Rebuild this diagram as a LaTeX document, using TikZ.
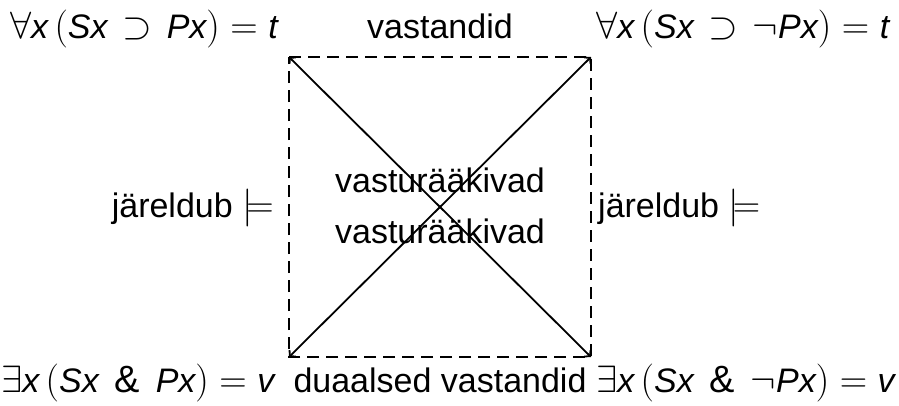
\RequirePackage{fix-cm}
\documentclass[tikz,border=0pt]{standalone}
\usepackage{fontspec}
\setmainfont{Liberation Sans}
\usetikzlibrary{arrows.meta}
% formulas: symbols a little larger than the sans letters
\DeclareMathSizes{34}{38}{27}{19}
\newcommand\vi[1]{\textit{#1}}
\newcommand\implies{\mskip2mu\supset\mskip2mu}
\newcommand\conj{\mskip3.5mu\mathbin{\textup{\fontsize{38}{40}\selectfont\&}}\mskip3.5mu}
\begin{document}
\begin{tikzpicture}[x=1pt,y=-1pt,
  lbl/.style={inner sep=0pt,font=\fontsize{34}{40}\selectfont},
  side/.style={line width=1.8pt,dash pattern=on 12pt off 7pt},
  diag/.style={line width=1.8pt,{Straight Barb[length=4pt,width=9pt]}-{Straight Barb[length=4pt,width=9pt]}}]
\useasboundingbox (0,0) rectangle (899,405);
% corners of the square
\coordinate (A) at (289,57);
\coordinate (E) at (591,57);
\coordinate (I) at (289,357);
\coordinate (O) at (591,357);
% sides and diagonals
\draw[side] (A) -- (E) -- (O) -- (I) -- cycle;
\draw[diag] (A) -- (O);
\draw[diag] (E) -- (I);
% corner formulas
\node[lbl,anchor=base east] (fa) at (278,38) {$\forall\vi{x}\,(\vi{Sx}\implies\vi{Px})=\vi{t}$};
\node[lbl,anchor=base west] (fe) at (596,38) {$\forall\vi{x}\,(\vi{Sx}\implies\neg\vi{Px})=\vi{t}$};
\node[lbl,anchor=base west] (fi) at (1,392) {$\exists\vi{x}\,(\vi{Sx}\conj\vi{Px})=\vi{v}$};
\node[lbl,anchor=base west] (fo) at (596,392) {$\exists\vi{x}\,(\vi{Sx}\conj\neg\vi{Px})=\vi{v}$};
% relation labels
\node[lbl,anchor=base] (top) at (440,38) {vastandid};
\node[lbl,anchor=base] (bot) at (440,392) {duaalsed vastandid};
\node[lbl,anchor=base east] (lft) at (274,217) {järeldub $\models$};
\node[lbl,anchor=base west] (rgt) at (598,217) {järeldub $\models$};
\node[lbl,anchor=base] (c1) at (440,192) {vasturääkivad};
\node[lbl,anchor=base] (c2) at (440,243) {vasturääkivad};
\end{tikzpicture}
\end{document}
